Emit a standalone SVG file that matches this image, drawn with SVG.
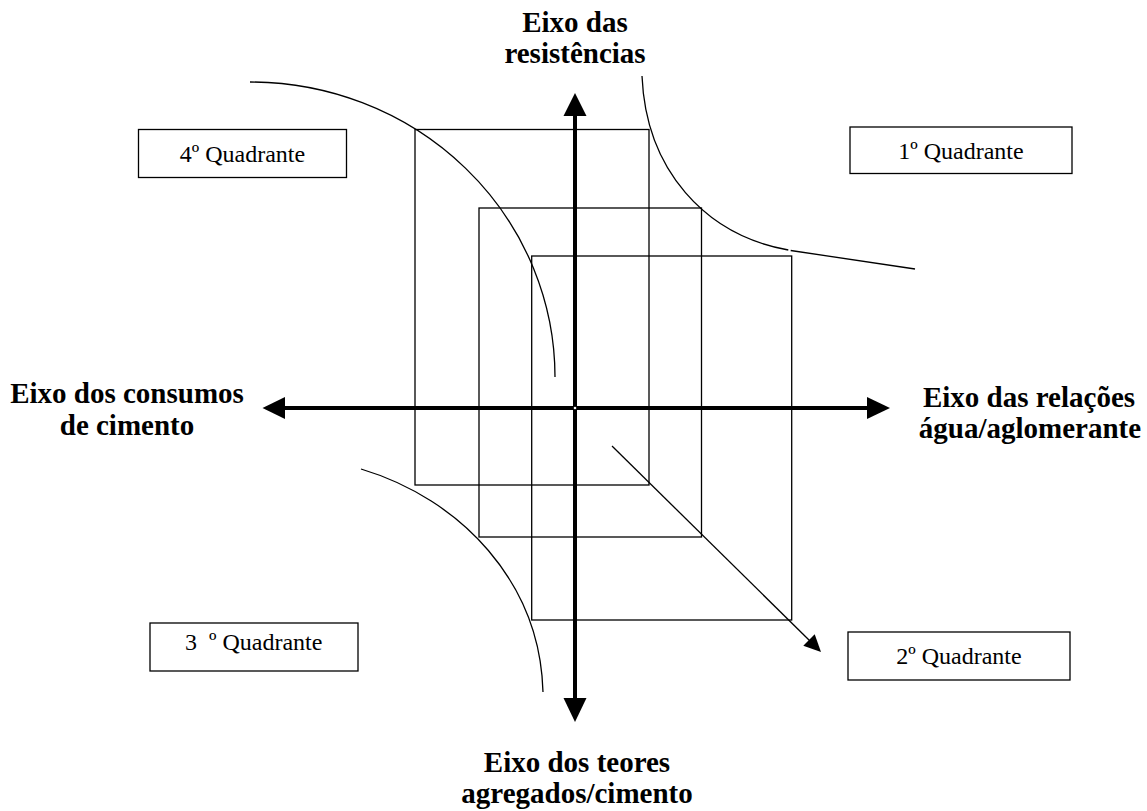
<svg xmlns="http://www.w3.org/2000/svg" width="1147" height="811" viewBox="0 0 1147 811">
<style>
.bg{fill:#fff}
.frame{fill:none;stroke:#000;stroke-width:1.3}
.box{fill:#fff;stroke:#000;stroke-width:1.3}
.curve{fill:none;stroke:#000;stroke-width:1.3}
.axis{stroke:#000;stroke-width:4;fill:none}
.head{fill:#000;stroke:none}
.q{font-family:"Liberation Serif","Times New Roman",serif;font-size:24px;fill:#000}
.lab{font-family:"Liberation Serif","Times New Roman",serif;font-size:29px;font-weight:bold;fill:#000;text-anchor:middle}
</style>
<rect class="bg" x="0" y="0" width="1147" height="811"/>
<g id="frames">
<rect class="frame" x="415" y="129.5" width="234" height="355.5"/>
<rect class="frame" x="479" y="208" width="222.5" height="329"/>
<rect class="frame" x="531.7" y="256" width="260" height="364"/>
</g>
<g id="curves">
<path class="curve" d="M250,82 A305,295 0 0 1 555,377"/>
<path class="curve" d="M361,469 C461,499 540,582 543,692"/>
<path class="curve" d="M642,76 C646,170 705,235 788.3,250"/>
<path class="curve" d="M790.7,250.5 L915,269"/>
</g>
<g id="connectors">
<line class="axis" x1="575" y1="115" x2="575" y2="699"/>
<polygon class="head" points="575,93 563.5,116 586.5,116"/>
<polygon class="head" points="575,722 563.5,698 586.5,698"/>
<line class="axis" x1="284" y1="408" x2="868" y2="408"/>
<polygon class="head" points="262.5,408 285,397 285,419"/>
<polygon class="head" points="890,408 867,397 867,419"/>
<circle cx="575" cy="408" r="1.3" fill="#fff"/>
<line class="curve" x1="612" y1="446" x2="810" y2="641"/>
<polygon class="head" points="821,652 803.3,645.7 814.7,634.3"/>
</g>
<g id="q4">
<rect class="box" x="138.5" y="129.5" width="208" height="48"/>
<text class="q" x="242.5" y="161.5" text-anchor="middle">4º Quadrante</text>
</g>
<g id="q1">
<rect class="box" x="850" y="127" width="222" height="46.5"/>
<text class="q" x="961" y="158.5" text-anchor="middle">1º Quadrante</text>
</g>
<g id="q3">
<rect class="box" x="150" y="623" width="208" height="48"/>
<text class="q" x="185" y="650" xml:space="preserve">3  º Quadrante</text>
</g>
<g id="q2">
<rect class="box" x="848" y="632" width="222" height="48"/>
<text class="q" x="959" y="663.5" text-anchor="middle">2º Quadrante</text>
</g>
<g id="axis-labels">
<text class="lab" x="575" y="32">Eixo das</text>
<text class="lab" x="575" y="63">resistências</text>
<text class="lab" x="127" y="403">Eixo dos consumos</text>
<text class="lab" x="127" y="435">de cimento</text>
<text class="lab" x="1029" y="407">Eixo das relações</text>
<text class="lab" x="1030" y="438">água/aglomerante</text>
<text class="lab" x="577" y="772">Eixo dos teores</text>
<text class="lab" x="577" y="803">agregados/cimento</text>
</g>
</svg>
